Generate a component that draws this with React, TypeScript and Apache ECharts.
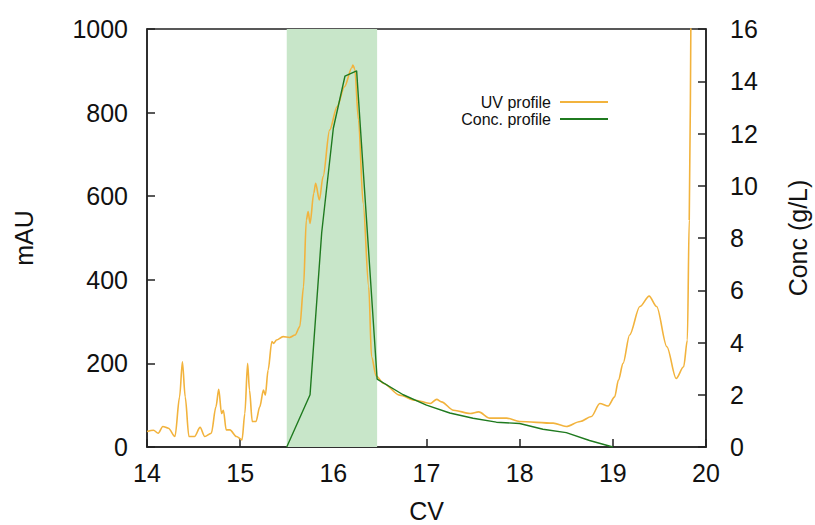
import React, { useEffect, useRef } from "react";
import * as echarts from "echarts";

const uvCV = [14.0, 14.07, 14.12, 14.17, 14.23, 14.3, 14.35, 14.38, 14.41, 14.45, 14.51, 14.57, 14.62, 14.69, 14.74, 14.77, 14.8, 14.82, 14.85, 14.89, 14.96, 15.02, 15.05, 15.08, 15.1, 15.13, 15.17, 15.21, 15.25, 15.27, 15.3, 15.34, 15.36, 15.39, 15.46, 15.53, 15.59, 15.64, 15.68, 15.71, 15.73, 15.75, 15.79, 15.81, 15.85, 15.89, 15.96, 16.04, 16.12, 16.2, 16.21, 16.23, 16.27, 16.32, 16.38, 16.41, 16.46, 16.54, 16.71, 16.88, 17.04, 17.11, 17.16, 17.29, 17.47, 17.56, 17.68, 17.86, 18.0, 18.36, 18.5, 18.65, 18.77, 18.86, 18.95, 19.02, 19.06, 19.11, 19.18, 19.29, 19.39, 19.47, 19.58, 19.68, 19.76, 19.8, 19.82, 19.84];
const uvMAU = [37, 40, 33, 49, 45, 25, 120, 204, 120, 25, 25, 47, 25, 33, 96, 138, 80, 88, 41, 41, 25, 17, 80, 200, 136, 61, 61, 96, 136, 124, 184, 252, 248, 256, 264, 262, 268, 288, 383, 543, 563, 535, 607, 631, 591, 647, 758, 814, 862, 908, 914, 904, 782, 583, 383, 216, 170, 152, 124, 112, 104, 114, 108, 88, 80, 84, 69, 69, 61, 57, 49, 61, 73, 104, 98, 120, 160, 200, 268, 336, 361, 336, 240, 164, 192, 256, 543, 1100];

const concCV = [15.5, 15.75, 15.875, 16.0, 16.125, 16.25, 16.47, 16.75, 17.0, 17.25, 17.5, 17.75, 18.0, 18.25, 18.5, 18.75, 19.0];
const concVal = [0, 2.0, 8.2, 12.2, 14.2, 14.4, 2.6, 2.0, 1.6, 1.3, 1.1, 0.95, 0.9, 0.68, 0.55, 0.25, 0];

const bandRange = [15.5, 16.47];
const seriesNames = ["UV profile", "Conc. profile"];

export default function App() {
  const ref = useRef<HTMLDivElement>(null);
  useEffect(() => {
    if (!ref.current) return;
    document.body.style.margin = "0";
    document.body.style.overflow = "hidden";
    const chart = echarts.init(ref.current, null, { renderer: "svg" });
    const font = "Liberation Sans, Arial, sans-serif";
    const axisLine = { show: true, lineStyle: { color: "#222", width: 1.5 } };
    const tick = { show: true, inside: true, length: 8, lineStyle: { color: "#222", width: 1.5 } };
    const legendBase = {
      orient: "vertical",
      right: 207,
      align: "right",
      itemWidth: 48,
      itemHeight: 2,
      icon: "rect",
      padding: 0,
      textStyle: { fontFamily: font, fontSize: 16, color: "#111", lineHeight: 15, height: 15, padding: [0, 4, 0, 0] },
    };
    chart.setOption({
      animation: false,
      backgroundColor: "#fff",
      grid: {
        left: 147,
        right: 109,
        top: 29,
        bottom: 78,
        outerBoundsMode: "none",
        containLabel: false,
        show: true,
        borderColor: "#222",
        borderWidth: 1.5,
        backgroundColor: "transparent",
      },
      legend: [
        { ...legendBase, top: 94, data: [seriesNames[0]] },
        { ...legendBase, top: 111, data: [seriesNames[1]] },
      ],
      xAxis: {
        type: "value",
        min: 14,
        max: 20,
        interval: 1,
        name: "CV",
        nameLocation: "middle",
        nameGap: 51,
        nameTextStyle: { fontFamily: font, fontSize: 25, color: "#111" },
        axisLine,
        axisTick: tick,
        axisLabel: { fontFamily: font, fontSize: 25, color: "#111", margin: 13 },
        splitLine: { show: false },
      },
      yAxis: [
        {
          type: "value",
          min: 0,
          max: 1000,
          interval: 200,
          name: "mAU",
          nameLocation: "middle",
          nameGap: 111,
          nameTextStyle: { fontFamily: font, fontSize: 25, color: "#111" },
          axisLine,
          axisTick: tick,
          axisLabel: { fontFamily: font, fontSize: 25, color: "#111", margin: 19, formatter: (v: number) => String(v) },
          splitLine: { show: false },
        },
        {
          type: "value",
          min: 0,
          max: 16,
          interval: 2,
          position: "right",
          name: "Conc (g/L)",
          nameLocation: "middle",
          nameGap: 79,
          nameRotate: 90,
          nameTextStyle: { fontFamily: font, fontSize: 25, color: "#111" },
          axisLine,
          axisTick: tick,
          axisLabel: { fontFamily: font, fontSize: 25, color: "#111", margin: 24 },
          splitLine: { show: false },
        },
      ],
      series: [
        {
          name: "band",
          type: "line",
          data: [],
          z: 1,
          silent: true,
          markArea: {
            silent: true,
            itemStyle: { color: "#c8e6c9", opacity: 1 },
            data: [[{ xAxis: bandRange[0] }, { xAxis: bandRange[1] }]],
          },
        },
        {
          name: seriesNames[0],
          type: "line",
          yAxisIndex: 0,
          z: 3,
          showSymbol: false,
          symbol: "none",
          clip: true,
          smooth: 0.3,
          smoothMonotone: "x",
          color: "#f2b33d",
          lineStyle: { color: "#f2b33d", width: 1.6 },
          data: uvCV.map((x, i) => [x, uvMAU[i]]),
        },
        {
          name: seriesNames[1],
          type: "line",
          yAxisIndex: 1,
          z: 4,
          showSymbol: false,
          symbol: "none",
          color: "#1f7a1f",
          lineStyle: { color: "#1f7a1f", width: 1.4 },
          data: concCV.map((x, i) => [x, concVal[i]]),
        },
      ],
    });
    return () => chart.dispose();
  }, []);
  return <div ref={ref} style={{ position: "fixed", left: 0, top: 0, width: 815, height: 525 }} />;
}
